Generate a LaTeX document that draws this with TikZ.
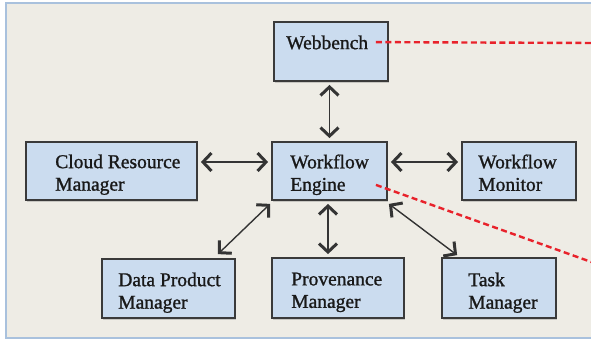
\documentclass[tikz,border=0pt]{standalone}
\usepackage{fontspec}
\setmainfont{Liberation Serif}[FakeBold=1.2]
\usetikzlibrary{arrows.meta,shadows}
\definecolor{bgc}{HTML}{EEECE5}
\definecolor{framec}{HTML}{A9C1DD}
\definecolor{boxc}{HTML}{CBDCEF}
\definecolor{edgec}{HTML}{3A3A3A}
\definecolor{redc}{HTML}{E8222B}
\tikzset{
  box/.style={draw=edgec, line width=1.8pt, fill=boxc, inner sep=0pt,
    drop shadow={shadow xshift=1pt, shadow yshift=-2pt, opacity=0.35, fill=gray}},
  lbl/.style={anchor=north west, inner sep=0pt, align=left,
    font=\fontsize{19.5}{22.5}\selectfont, text=black!90},
  tipb/.tip={Straight Barb[length=8.5pt,width=18pt,line width=3pt]},
  link/.style={draw=edgec!90!black, line width=1.4pt, tipb-tipb},
  reddash/.style={draw=redc, line width=2.4pt, dash pattern=on 6pt off 3.5pt}
}
\begin{document}
\begin{tikzpicture}[x=1pt,y=-1pt]
\useasboundingbox (0,0) rectangle (591,343);
\fill[white] (0,0) rectangle (591,343);
\draw[draw=framec, fill=bgc, line width=1.8pt] (6,3) rectangle (620,338);
% boxes
\node[box, minimum width=114pt, minimum height=59pt] (web) at (331,51.5) {};
\node[box, minimum width=171pt, minimum height=58pt] (cloud) at (111.5,171) {};
\node[box, minimum width=115pt, minimum height=58pt] (eng) at (329.5,171) {};
\node[box, minimum width=114pt, minimum height=58pt] (mon) at (519,171) {};
\node[box, minimum width=133pt, minimum height=59pt] (dp) at (168.5,288.5) {};
\node[box, minimum width=132pt, minimum height=60pt] (prov) at (338,288) {};
\node[box, minimum width=114pt, minimum height=60pt] (task) at (499,288) {};
% labels
\node[lbl] (webt) at ([shift={(13pt,-14.3pt)}]web.north west) {Webbench};
\node[lbl] (cloudt) at ([shift={(30pt,-13.3pt)}]cloud.north west) {Cloud Resource\\Manager};
\node[lbl] (engt) at ([shift={(19pt,-13.3pt)}]eng.north west) {Workflow\\Engine};
\node[lbl] (mont) at ([shift={(17pt,-13.3pt)}]mon.north west) {Workflow\\Monitor};
\node[lbl] (dpt) at ([shift={(17pt,-14.3pt)}]dp.north west) {Data Product\\Manager};
\node[lbl] (provt) at ([shift={(20pt,-15.3pt)}]prov.north west) {Provenance\\Manager};
\node[lbl] (taskt) at ([shift={(27pt,-15.3pt)}]task.north west) {Task\\Manager};
% connectors
\draw[link] ([yshift=-3pt]eng.north |- web.south) -- ([yshift=3pt]eng.north);
\draw[link] ([shift={(3pt,9pt)}]cloud.east) -- ([shift={(-3pt,9pt)}]eng.west);
\draw[link] ([shift={(3pt,9pt)}]eng.east) -- ([shift={(-3pt,9pt)}]mon.west);
\draw[link] ([shift={(-1pt,-3pt)}]eng.south west) -- ([shift={(-18pt,4pt)}]dp.north east);
\draw[link] ([shift={(-1.5pt,-3pt)}]eng.south) -- ([shift={(-1.5pt,3pt)}]eng.south |- prov.north);
\draw[link] ([shift={(1pt,-3pt)}]eng.south east) -- ([shift={(16pt,2pt)}]task.north west);
% red dashed leaders
\coordinate (r1) at (595,43);
\coordinate (r2) at (595,263.3);
\draw[reddash] ([shift={(-13pt,-21pt)}]web.north east) -- (r1);
\draw[reddash] ([shift={(-12pt,16pt)}]eng.south east) -- (r2);
\end{tikzpicture}
\end{document}
